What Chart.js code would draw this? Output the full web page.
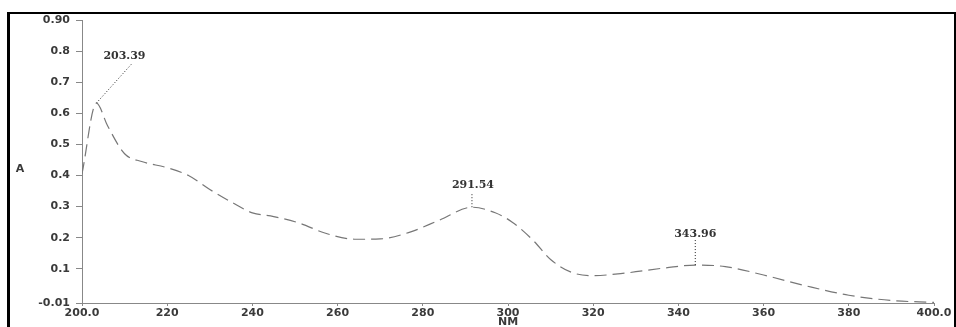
<!DOCTYPE html>
<html>
<head>
<meta charset="utf-8">
<script src="https://cdn.jsdelivr.net/npm/chart.js@4/dist/chart.umd.min.js"></script>
<style>
  html, body { margin: 0; padding: 0; background: #fff; }
  body { width: 956px; height: 327px; overflow: hidden; position: relative; }
  .frame {
    position: absolute; left: 7px; top: 12px; width: 944px; height: 330px;
    border-top: 2px solid #000; border-left: 3px solid #000; border-right: 2px solid #000;
  }
  #spectrum { position: absolute; left: 0; top: 0; }
</style>
</head>
<body>
<div class="frame"></div>
<canvas id="spectrum" width="956" height="327"></canvas>
<script>
// UV spectrum, wavelength (NM) vs absorbance (A)
const wavelengths = [200, 203.39, 206, 210, 214, 220, 225, 230, 235, 240, 245, 251, 257, 264, 270, 277, 284, 291.54, 297, 301, 306, 310, 315, 320, 328, 337, 343.96, 351, 360, 370, 380, 390, 400];
const absorbance = [0.405, 0.633, 0.56, 0.47, 0.445, 0.425, 0.40, 0.355, 0.315, 0.28, 0.268, 0.247, 0.215, 0.195, 0.196, 0.218, 0.257, 0.298, 0.28, 0.25, 0.19, 0.13, 0.088, 0.078, 0.087, 0.103, 0.112, 0.107, 0.08, 0.045, 0.015, -0.002, -0.008];

const peakWavelengths = [203.39, 291.54, 343.96];
const peakAbsorbance = [0.633, 0.298, 0.112];
const peakLabels = ['203.39', '291.54', '343.96'];

const xTickValues = [200, 220, 240, 260, 280, 300, 320, 340, 360, 380, 400];
const xTickLabels = ['200.0', '220', '240', '260', '280', '300', '320', '340', '360', '380', '400.0'];
const yTickValues = [-0.01, 0.1, 0.2, 0.3, 0.4, 0.5, 0.6, 0.7, 0.8, 0.9];
const yTickLabels = ['-0.01', '0.1', '0.2', '0.3', '0.4', '0.5', '0.6', '0.7', '0.8', '0.90'];

const tickFont = { family: 'DejaVu Sans', size: 11, weight: 'bold' };
const labelColor = '#3a3a3a';

// leader line offsets for each peak label (px)
const leaderOffsets = [
  { dx: 36, dy: -40, tx: 28, ty: -47 },
  { dx: 0, dy: -15, tx: 1, ty: -22 },
  { dx: 0, dy: -25, tx: 0, ty: -31 }
];

const peakLabelPlugin = {
  id: 'peakLabels',
  afterDatasetsDraw(chart) {
    const { ctx, scales: { x, y } } = chart;
    ctx.save();
    ctx.strokeStyle = '#222';
    ctx.lineWidth = 1;
    ctx.setLineDash([1, 2]);
    ctx.font = 'bold 11px "DejaVu Serif"';
    ctx.fillStyle = '#333';
    ctx.textAlign = 'center';
    ctx.textBaseline = 'middle';
    peakWavelengths.forEach((nm, i) => {
      const px = x.getPixelForValue(nm);
      const py = y.getPixelForValue(peakAbsorbance[i]);
      const off = leaderOffsets[i];
      ctx.beginPath();
      ctx.moveTo(px, py);
      ctx.lineTo(px + off.dx, py + off.dy);
      ctx.stroke();
      ctx.fillText(peakLabels[i], px + off.tx, py + off.ty);
    });
    ctx.restore();
  }
};

new Chart(document.getElementById('spectrum'), {
  type: 'line',
  data: {
    datasets: [{
      data: wavelengths.map((w, i) => ({ x: w, y: absorbance[i] })),
      borderColor: '#777',
      borderWidth: 1.2,
      borderDash: [12, 6],
      pointRadius: 0,
      fill: false,
      cubicInterpolationMode: 'monotone'
    }]
  },
  options: {
    responsive: false,
    animation: false,
    events: [],
    layout: { padding: { left: 0, top: 20, right: 22, bottom: 0 } },
    plugins: { legend: { display: false }, tooltip: { enabled: false } },
    scales: {
      x: {
        type: 'linear',
        min: 200,
        max: 400,
        afterBuildTicks(scale) { scale.ticks = xTickValues.map(v => ({ value: v })); },
        afterFit(scale) { scale.height = 24; },
        border: { color: '#888', width: 1 },
        grid: { drawOnChartArea: false, tickLength: 3, color: '#888' },
        ticks: {
          font: tickFont,
          color: labelColor,
          padding: 1,
          maxRotation: 0,
          autoSkip: false,
          callback: (v, i) => xTickLabels[i]
        },
        title: { display: false }
      },
      y: {
        min: -0.01,
        max: 0.9,
        afterBuildTicks(scale) { scale.ticks = yTickValues.map(v => ({ value: v })); },
        afterFit(scale) { scale.width = 82; },
        border: { color: '#888', width: 1 },
        grid: { drawOnChartArea: false, tickLength: 6, color: '#888' },
        ticks: {
          font: tickFont,
          color: labelColor,
          padding: 6,
          autoSkip: false,
          callback: (v, i) => yTickLabels[i]
        }
      }
    }
  },
  plugins: [peakLabelPlugin, {
    id: 'axisTitles',
    afterDraw(chart) {
      const { ctx, scales: { x, y } } = chart;
      ctx.save();
      ctx.font = 'bold 11px "DejaVu Sans"';
      ctx.fillStyle = labelColor;
      ctx.textAlign = 'center';
      ctx.textBaseline = 'middle';
      ctx.fillText('NM', x.getPixelForValue(300), 322);
      ctx.fillText('A', 20, y.getPixelForValue(0.42));
      ctx.restore();
    }
  }]
});
</script>
</body>
</html>
